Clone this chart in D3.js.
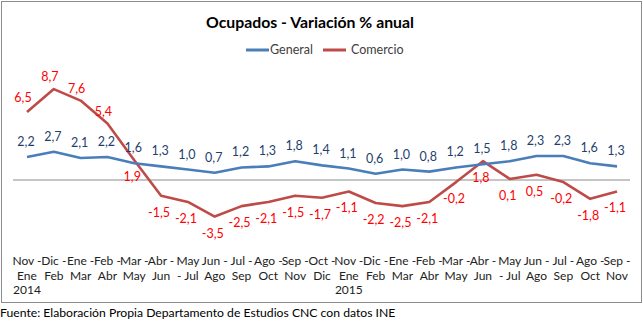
<!DOCTYPE html>
<html><head><meta charset="utf-8">
<script src="https://cdn.jsdelivr.net/npm/d3@7"></script>
<style>
html,body{margin:0;padding:0;background:#fff;}
svg{display:block;font-family:Lato,"Open Sans",sans-serif;}
</style></head>
<body><svg id="c" width="643" height="325"></svg>
<script>
const categories = ["Nov -\nEne","Dic -\nFeb","Ene -\nMar","Feb -\nAbr","Mar -\nMay","Abr -\nJun","May\n- Jul","Jun -\nAgo","Jul -\nSep","Ago -\nOct","Sep -\nNov","Oct -\nDic","Nov -\nEne","Dic -\nFeb","Ene -\nMar","Feb -\nAbr","Mar -\nMay","Abr -\nJun","May\n- Jul","Jun -\nAgo","Jul -\nSep","Ago -\nOct","Sep -\nNov"];
const years = [{i:0, label:"2014"},{i:12, label:"2015"}];
const general = [2.2,2.7,2.1,2.2,1.6,1.3,1.0,0.7,1.2,1.3,1.8,1.4,1.1,0.6,1.0,0.8,1.2,1.5,1.8,2.3,2.3,1.6,1.3];
const comercio = [6.5,8.7,7.6,5.4,1.9,-1.5,-2.1,-3.5,-2.5,-2.1,-1.5,-1.7,-1.1,-2.2,-2.5,-2.1,-0.2,1.8,0.1,0.5,-0.2,-1.8,-1.1];
const seriesNames = ["General","Comercio"];
const title = "Ocupados - Variación % anual";
const source = "Fuente: Elaboración Propia Departamento de Estudios CNC con datos INE";

const svg = d3.select("#c");
const fmt = v => d3.format(".1f")(v).replace(".", ",").replace("−","-");

// frame
svg.append("rect").attr("x",1.5).attr("y",1.5).attr("width",640).attr("height",301)
  .attr("fill","#fff").attr("stroke","#8c8c8c").attr("stroke-width",1);

const x = d3.scalePoint().domain(d3.range(categories.length)).range([27,617]);
const y = d3.scaleLinear().domain([-4,9]).range([221.8,85.95]);

// title
svg.append("text").attr("x",310).attr("y",28).attr("text-anchor","middle")
  .attr("font-weight","bold").attr("font-size",15.8).attr("fill","#000").text(title);

// legend
const colors = ["#4A7EBB","#BE4B48"];
const leg = [{x:246,tx:270},{x:323,tx:351}];
seriesNames.forEach((n,k)=>{
  svg.append("line").attr("x1",leg[k].x).attr("x2",leg[k].x+23).attr("y1",50).attr("y2",50)
    .attr("stroke",colors[k]).attr("stroke-width",3);
  svg.append("text").attr("x",leg[k].tx).attr("y",54).attr("font-size",12.5).attr("fill","#404040").text(n);
});

// zero line
svg.append("line").attr("x1",13).attr("x2",630).attr("y1",y(0)).attr("y2",y(0))
  .attr("stroke","#8c8c8c").attr("stroke-width",1.2);

// x axis labels
const xa = svg.append("g").attr("font-size",12).attr("fill","#222");
categories.forEach((c,i)=>{
  const parts = c.split("\n");
  parts.forEach((p,j)=>{
    xa.append("text").attr("x",x(i)).attr("y",265+j*14.5).attr("text-anchor","middle").text(p);
  });
});
years.forEach(yy=>{
  xa.append("text").attr("x",x(yy.i)).attr("y",294).attr("text-anchor","middle").text(yy.label);
});

// lines
const line = d3.line().x((d,i)=>x(i)).y(d=>y(d));
svg.append("path").datum(comercio).attr("d",line).attr("fill","none")
  .attr("stroke",colors[1]).attr("stroke-width",2.6).attr("stroke-linejoin","round");
svg.append("path").datum(general).attr("d",line).attr("fill","none")
  .attr("stroke",colors[0]).attr("stroke-width",2.6).attr("stroke-linejoin","round");

// data labels
const dl = svg.append("g").attr("font-size",12.5).attr("text-anchor","middle");
general.forEach((v,i)=>{
  dl.append("text").attr("x",x(i)-1).attr("y",y(v)-11).attr("fill","#1F3F6E").text(fmt(v));
});
comercio.forEach((v,i)=>{
  const above = i < 4;
  const dy = above ? (i===0 ? -10 : -8) : 21;
  const dx = above ? -4 : -2;
  dl.append("text").attr("x",x(i)+dx).attr("y",y(v)+dy).attr("fill","#FF0000").text(fmt(v));
});

// source
svg.append("text").attr("x",0).attr("y",317).attr("font-size",12.2).attr("fill","#000").text(source);
</script></body></html>
